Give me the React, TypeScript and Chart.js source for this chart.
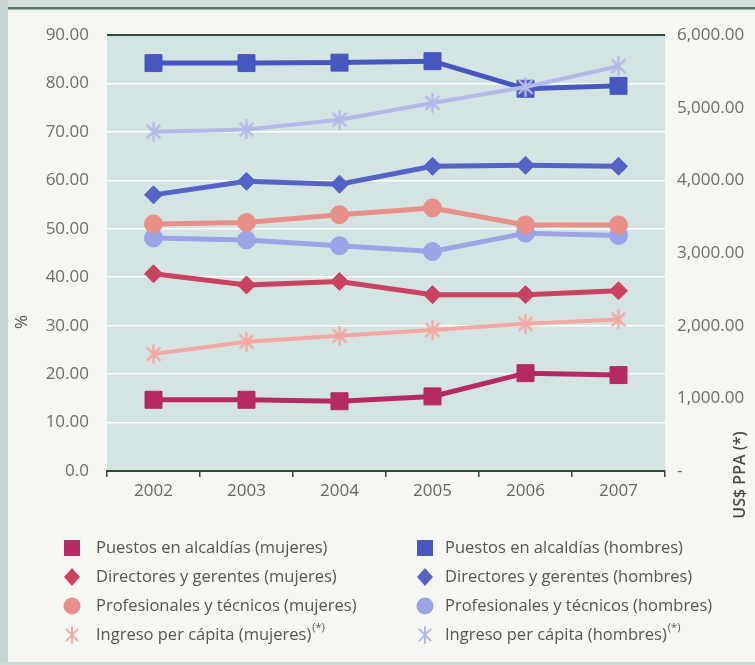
import React, { useEffect, useRef } from 'react';
import { Chart, registerables } from 'chart.js';

Chart.register(...registerables);

// Years on the category axis
const years = ['2002', '2003', '2004', '2005', '2006', '2007'];

// Shares in percent (left axis)
const puestosMujeres = [14.7, 14.7, 14.4, 15.4, 20.2, 19.8];
const puestosHombres = [84.2, 84.2, 84.3, 84.6, 78.9, 79.5];
const directoresMujeres = [40.7, 38.4, 39.1, 36.4, 36.4, 37.2];
const directoresHombres = [57.0, 59.8, 59.2, 62.9, 63.1, 62.9];
const profesionalesMujeres = [51.0, 51.3, 52.9, 54.3, 50.8, 50.8];
const profesionalesHombres = [48.1, 47.7, 46.5, 45.3, 49.1, 48.6];

// Per-capita income in US$ PPA (right axis)
const ingresoMujeres = [1610, 1780, 1860, 1940, 2025, 2085];
const ingresoHombres = [4670, 4700, 4835, 5065, 5285, 5570];

const labelsMujeres = [
  'Puestos en alcaldías (mujeres)',
  'Directores y gerentes (mujeres)',
  'Profesionales y técnicos (mujeres)',
  'Ingreso per cápita (mujeres)',
];
const labelsHombres = [
  'Puestos en alcaldías (hombres)',
  'Directores y gerentes (hombres)',
  'Profesionales y técnicos (hombres)',
  'Ingreso per cápita (hombres)',
];

const C = {
  pm: '#b52a62',
  dm: '#c8435f',
  prm: '#e98f8a',
  im: '#f3a9a3',
  ph: '#4757c0',
  dh: '#5463c6',
  prh: '#9ba4e6',
  ih: '#b5b9ea',
};

const FONT = '"Open Sans", "Noto Sans", sans-serif';
const TICK_SIZE = 17;
const LEGEND_SIZE = 16.5;

function makeStar(color: string, size: number, lw: number): HTMLCanvasElement {
  const c = document.createElement('canvas');
  c.width = size;
  c.height = size;
  const ctx = c.getContext('2d')!;
  const m = size / 2;
  const r = size / 2 - lw / 2;
  ctx.strokeStyle = color;
  ctx.lineWidth = lw;
  ctx.lineCap = 'round';
  ctx.beginPath();
  ctx.moveTo(m, m - r);
  ctx.lineTo(m, m + r);
  const d = r * Math.SQRT1_2;
  ctx.moveTo(m - d, m - d);
  ctx.lineTo(m + d, m + d);
  ctx.moveTo(m + d, m - d);
  ctx.lineTo(m - d, m + d);
  ctx.stroke();
  return c;
}

function fmtThousands(v: number): string {
  if (v === 0) return '-';
  return v.toLocaleString('en-US', { minimumFractionDigits: 2, maximumFractionDigits: 2 });
}

type Marker = 'rect' | 'diamond' | 'circle' | 'star';

function drawMarker(ctx: CanvasRenderingContext2D, kind: Marker, x: number, y: number, color: string) {
  ctx.save();
  ctx.fillStyle = color;
  ctx.strokeStyle = color;
  if (kind === 'rect') {
    ctx.fillRect(x - 8, y - 8, 16, 16);
  } else if (kind === 'diamond') {
    ctx.beginPath();
    ctx.moveTo(x, y - 9);
    ctx.lineTo(x + 8, y);
    ctx.lineTo(x, y + 9);
    ctx.lineTo(x - 8, y);
    ctx.closePath();
    ctx.fill();
  } else if (kind === 'circle') {
    ctx.beginPath();
    ctx.arc(x, y, 8.5, 0, Math.PI * 2);
    ctx.fill();
  } else {
    ctx.lineWidth = 2;
    ctx.lineCap = 'round';
    const r = 8;
    const d = r * Math.SQRT1_2;
    ctx.beginPath();
    ctx.moveTo(x, y - r);
    ctx.lineTo(x, y + r);
    ctx.moveTo(x - d, y - d);
    ctx.lineTo(x + d, y + d);
    ctx.moveTo(x + d, y - d);
    ctx.lineTo(x - d, y + d);
    ctx.stroke();
  }
  ctx.restore();
}

export default function App() {
  const ref = useRef<HTMLCanvasElement>(null);

  useEffect(() => {
    document.body.style.margin = '0';
    const canvas = ref.current!;

    const starM = makeStar(C.im, 20, 2.4);
    const starH = makeStar(C.ih, 20, 2.4);

    const frame = {
      id: 'frame',
      beforeDraw(chart: any) {
        const { ctx, width, height, chartArea } = chart;
        ctx.save();
        ctx.fillStyle = '#f6f7f2';
        ctx.fillRect(0, 0, width, height);
        ctx.fillStyle = '#d5e0dc';
        ctx.fillRect(0, 0, width, 7);
        ctx.fillStyle = '#c6d5d1';
        ctx.fillRect(0, 0, 8, height);
        ctx.fillStyle = '#cfdbd7';
        ctx.fillRect(0, height - 3, width, 3);
        ctx.fillStyle = '#4f7d66';
        ctx.fillRect(8, 7, width - 8, 2.5);
        // plot background
        ctx.fillStyle = '#d4e4e3';
        ctx.fillRect(chartArea.left, chartArea.top, chartArea.right - chartArea.left, chartArea.bottom - chartArea.top);
        ctx.restore();
      },
      beforeDatasetsDraw(chart: any) {
        const { ctx, chartArea } = chart;
        ctx.save();
        ctx.strokeStyle = '#2f4a3a';
        ctx.lineWidth = 2;
        ctx.beginPath();
        ctx.moveTo(chartArea.left, chartArea.top);
        ctx.lineTo(chartArea.right, chartArea.top);
        ctx.stroke();
        ctx.restore();
      },
      afterDraw(chart: any) {
        const { ctx } = chart;
        ctx.save();
        // axis titles
        ctx.fillStyle = '#555';
        ctx.font = `17px ${FONT}`;
        ctx.textAlign = 'center';
        ctx.textBaseline = 'middle';
        ctx.translate(22, 322);
        ctx.rotate(-Math.PI / 2);
        ctx.fillText('%', 0, 0);
        ctx.restore();

        ctx.save();
        ctx.fillStyle = '#4a4a4a';
        ctx.font = `600 16px ${FONT}`;
        ctx.textAlign = 'center';
        ctx.textBaseline = 'middle';
        ctx.translate(740, 475);
        ctx.rotate(-Math.PI / 2);
        ctx.fillText('US$ PPA (*)', 0, 0);
        ctx.restore();

        // legend
        const kinds: Marker[] = ['rect', 'diamond', 'circle', 'star'];
        const colsM = [C.pm, C.dm, C.prm, C.im];
        const colsH = [C.ph, C.dh, C.prh, C.ih];
        const rows = [548, 577, 606, 635];
        ctx.save();
        ctx.textBaseline = 'middle';
        ctx.textAlign = 'left';
        const drawLabel = (text: string, x: number, y: number, sup: boolean) => {
          ctx.fillStyle = '#555';
          ctx.font = `${LEGEND_SIZE}px ${FONT}`;
          ctx.fillText(text, x, y);
          if (sup) {
            const w = ctx.measureText(text).width;
            ctx.font = `11px ${FONT}`;
            ctx.fillText('(*)', x + w + 1, y - 7);
          }
        };
        rows.forEach((y, i) => {
          drawMarker(ctx, kinds[i], 72, y, colsM[i]);
          drawLabel(labelsMujeres[i], 96, y, i === 3);
          drawMarker(ctx, kinds[i], 425, y, colsH[i]);
          drawLabel(labelsHombres[i], 445, y, i === 3);
        });
        ctx.restore();
      },
    };

    const line = (label: string, data: number[], color: string, style: any, radius: number, axis: string, width: number, order: number) => ({
      label,
      data,
      borderColor: color,
      backgroundColor: color,
      pointBackgroundColor: color,
      pointBorderColor: color,
      pointStyle: style,
      pointRadius: radius,
      pointBorderWidth: 1,
      borderWidth: width,
      yAxisID: axis,
      tension: 0,
      order,
    });

    const chart = new Chart(canvas, {
      type: 'line',
      data: {
        labels: years,
        datasets: [
          line(labelsHombres[3], ingresoHombres, C.ih, starH, 10, 'y1', 4, 0),
          line(labelsMujeres[3], ingresoMujeres, C.im, starM, 10, 'y1', 4, 0),
          line(labelsHombres[0], puestosHombres, C.ph, 'rect', 12, 'y', 5, 1),
          line(labelsHombres[1], directoresHombres, C.dh, 'rectRot', 9, 'y', 5, 1),
          line(labelsMujeres[2], profesionalesMujeres, C.prm, 'circle', 9, 'y', 5, 1),
          line(labelsHombres[2], profesionalesHombres, C.prh, 'circle', 9, 'y', 5, 1),
          line(labelsMujeres[1], directoresMujeres, C.dm, 'rectRot', 9, 'y', 5, 1),
          line(labelsMujeres[0], puestosMujeres, C.pm, 'rect', 12, 'y', 5, 1),
        ],
      },
      options: {
        responsive: false,
        animation: false,
        layout: { padding: { left: 0, right: 0, top: 35, bottom: 154 } },
        plugins: {
          legend: { display: false },
          tooltip: { enabled: false },
        },
        scales: {
          x: {
            offset: true,
            grid: {
              display: true,
              drawOnChartArea: false,
              drawTicks: true,
              tickLength: 6,
              color: '#2f4a3a',
              lineWidth: 1.5,
              offset: true,
            },
            border: { display: true, color: '#2f4a3a', width: 2 },
            ticks: { color: '#666', font: { family: FONT, size: TICK_SIZE }, padding: 4 },
            afterFit: (s: any) => { s.height = 40; },
          },
          y: {
            position: 'left',
            min: 0,
            max: 90,
            ticks: {
              stepSize: 10,
              color: '#6e6e6e',
              font: { family: FONT, size: TICK_SIZE },
              padding: 18,
              callback: (v: any) => (Number(v) === 0 ? '0.0' : Number(v).toFixed(2)),
            },
            grid: {
              drawTicks: false,
              lineWidth: 1.5,
              color: (c: any) => (c.tick && c.tick.value > 0 && c.tick.value < 90 ? 'rgba(255,255,255,0.95)' : 'rgba(0,0,0,0)'),
            },
            border: { display: false },
            afterFit: (s: any) => { s.width = 107; },
          },
          y1: {
            position: 'right',
            min: 0,
            max: 6000,
            ticks: {
              stepSize: 1000,
              color: '#6e6e6e',
              font: { family: FONT, size: TICK_SIZE },
              padding: 12,
              callback: (v: any) => fmtThousands(Number(v)),
            },
            grid: { display: false, drawTicks: false },
            border: { display: false },
            afterFit: (s: any) => { s.width = 90; },
          },
        },
      },
      plugins: [frame],
    } as any);

    return () => chart.destroy();
  }, []);

  return (
    <div style={{ width: 755, height: 665 }}>
      <canvas ref={ref} width={755} height={665} style={{ display: 'block' }} />
    </div>
  );
}
